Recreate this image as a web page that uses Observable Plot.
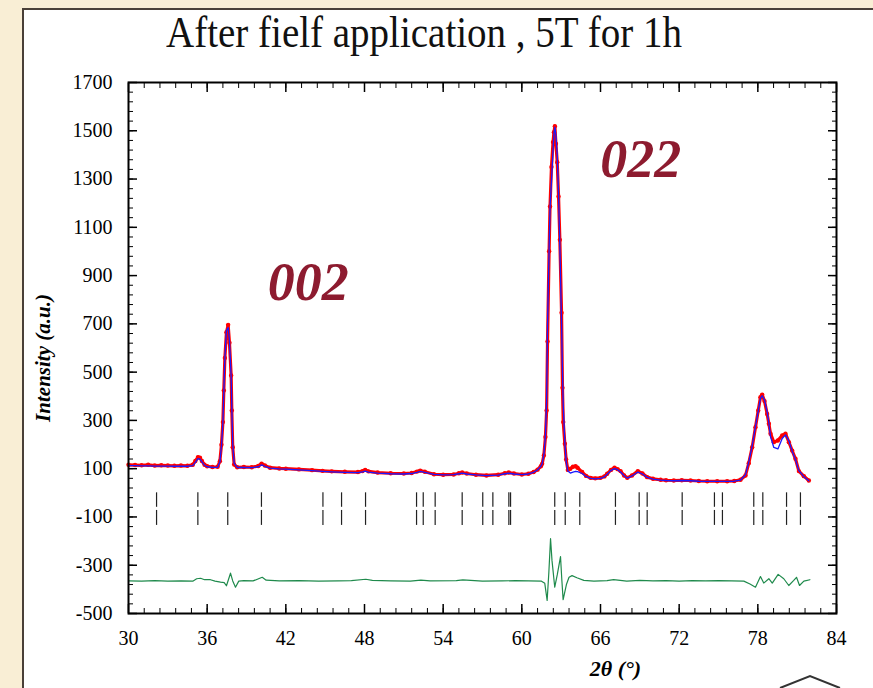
<!DOCTYPE html>
<html>
<head>
<meta charset="utf-8">
<script src="https://cdn.jsdelivr.net/npm/d3@7"></script>
<script src="https://cdn.jsdelivr.net/npm/@observablehq/plot@0.6"></script>
<style>
  html, body { margin: 0; padding: 0; width: 873px; height: 688px; overflow: hidden; background: #f9eed5; }
  #panel { position: absolute; left: 22px; top: 8px; width: 900px; height: 700px; background: #ffffff;
           border-left: 2px solid #4a4038; border-top: 2px solid #4a4038; }
  #title { position: absolute; left: 0; top: 14px; width: 848px; text-align: center;
           font-family: "Liberation Serif", "Times New Roman", serif; font-size: 39px; line-height: 40px; color: #111;
           white-space: nowrap; transform: scaleY(1.12); transform-origin: 50% 33px; }
  #chart { position: absolute; left: 0; top: 60px; }
  #corner { position: absolute; left: 0; top: 0; }
</style>
</head>
<body>
<div id="panel"></div>
<div id="title">After fielf application , 5T for 1h</div>
<div id="chart"></div>
<svg id="corner" width="873" height="688"><polyline points="780,688 810,676 840,688" fill="#fff" stroke="#333" stroke-width="2"/></svg>
<script>
// Observed / calculated profile, 2θ in degrees
const theta = [30.0,30.5,31.0,31.5,32.0,32.5,33.0,33.5,34.0,34.5,34.9,35.1,35.3,35.45,35.6,35.8,36.0,36.4,36.8,36.97,37.09,37.2,37.27,37.35,37.47,37.6,37.7,37.83,37.88,37.95,38.06,38.29,38.8,39.4,39.9,40.15,40.4,40.8,41.5,42.0,43.0,44.0,44.8,45.5,46.5,47.5,47.85,48.05,48.3,49.0,50.0,51.0,51.6,52.0,52.25,52.6,53.3,54.0,54.8,55.2,55.45,55.8,56.5,57.3,58.2,58.7,59.0,59.4,60.0,60.5,60.9,61.2,61.45,61.55,61.68,61.8,61.89,61.96,62.08,62.15,62.26,62.38,62.45,62.52,62.6,62.7,62.8,62.9,63.03,63.1,63.16,63.28,63.38,63.51,63.7,63.9,64.1,64.25,64.6,64.9,65.24,65.6,66.0,66.3,66.51,66.8,67.07,67.3,67.53,67.8,68.04,68.4,68.85,69.2,69.56,70.0,70.58,71.0,71.59,72.2,72.87,73.5,74.14,74.9,75.66,76.2,76.68,77.06,77.31,77.57,77.82,78.03,78.2,78.33,78.51,78.71,78.84,78.97,79.22,79.53,79.86,80.11,80.37,80.62,80.87,81.13,81.51,81.89];
const iObs = [116,115,114,116,113,114,113,112,113,112,116,132,148,145,132,116,110,107,108,131,199,293,424,559,665,696,622,486,341,189,117,106,107,106,111,121,113,104,101,100,97,94,91,89,87,86,90,95,89,84,81,80,82,88,92,87,77,75,76,81,84,80,75,72,75,81,84,80,76,79,86,96,110,120,155,231,341,627,1001,1186,1350,1453,1494,1519,1446,1370,1228,1048,746,435,293,203,138,95,100,108,110,104,86,70,62,60,62,68,79,95,104,98,90,72,62,72,90,80,65,58,54,52,51,52,51,49,48,48,48,49,54,72,123,189,272,341,396,407,380,327,286,245,210,217,238,245,210,175,141,90,69,51];
const iCalc = [113,113,112,112,111,111,111,110,110,110,113,126,142,140,128,114,108,105,106,128,195,290,420,560,672,685,630,480,350,200,122,105,105,104,108,116,110,102,99,98,95,92,89,87,85,84,87,90,86,82,79,78,80,85,89,85,76,74,75,79,82,78,74,71,73,79,81,78,75,78,85,95,110,121,158,235,380,700,1010,1180,1290,1420,1490,1515,1480,1400,1240,1020,700,500,360,210,130,90,82,86,89,88,80,68,60,58,60,66,77,93,100,96,86,71,61,70,86,78,64,57,53,51,50,51,50,48,47,47,47,48,53,75,128,195,275,338,392,402,385,335,290,232,188,182,225,240,215,172,138,92,67,50];

// Difference curve (Iobs - Icalc, shifted)
const diffTheta = [30.0,31.0,32.0,33.0,34.0,34.9,35.2,35.5,35.8,36.25,36.6,37.02,37.3,37.47,37.62,37.78,37.95,38.16,38.41,38.8,39.5,40.2,40.5,41.5,43.0,44.5,46.0,47.0,48.1,48.6,50.0,51.5,52.3,53.0,55.0,55.5,57.0,58.5,59.5,60.5,61.5,61.75,61.93,62.06,62.19,62.3,62.51,62.7,62.95,63.05,63.15,63.4,63.6,63.83,64.2,64.73,65.5,66.5,67.0,68.0,69.0,70.0,71.0,72.0,73.0,74.0,75.0,76.0,76.93,77.4,77.82,78.2,78.45,78.84,79.1,79.55,79.98,80.36,80.74,80.95,81.18,81.51,81.97];
const diffValue = [-365,-366,-364,-366,-365,-366,-356,-354,-360,-360,-366,-370,-372,-385,-360,-333,-365,-391,-366,-364,-365,-350,-362,-365,-364,-366,-365,-364,-358,-363,-365,-366,-362,-365,-364,-361,-366,-365,-364,-365,-366,-375,-446,-330,-190,-280,-391,-340,-264,-360,-443,-380,-350,-343,-352,-363,-366,-364,-360,-366,-363,-365,-364,-366,-364,-365,-364,-365,-366,-378,-391,-347,-374,-356,-374,-338,-356,-384,-363,-350,-384,-366,-360];

// Bragg reflection positions
const braggPositions = [32.14,35.29,37.57,40.14,44.83,46.25,48.08,51.97,52.48,53.39,55.45,57.02,57.79,59.01,59.14,62.51,63.31,64.42,67.14,68.95,69.56,72.23,74.69,75.30,77.69,78.38,80.19,81.25];

// Axis ticks
const xTickLabels = [30,36,42,48,54,60,66,72,78,84];
const yTickLabels = [-500,-300,-100,100,300,500,700,900,1100,1300,1500,1700];
const xMinorTicks = d3.range(0, 46).map(k => 30 + k * 1.2);
const yMinorTicks = d3.range(0, 56).map(k => -500 + k * 40);

// Indexed reflections
const hklLabels = ["002", "022"];
const hklTheta = [37.6, 62.52];
const hklPeak = [696, 1519];

const idx = d3.range(theta.length);
const didx = d3.range(diffTheta.length);
const serif = "'Liberation Serif', 'Times New Roman', serif";
const hklColor = "#8d1b2f";

const chart = Plot.plot({
  width: 873,
  height: 628,
  marginLeft: 128,
  marginRight: 37,
  marginTop: 22,
  marginBottom: 75,
  x: {domain: [30, 84]},
  y: {domain: [-500, 1700]},
  style: {background: "transparent", fontFamily: serif, fontSize: "20px", color: "#000"},
  marks: [
    // inward minor/major ticks on all four sides
    Plot.axisY(yMinorTicks, {anchor: "left", tickSize: 5, dx: 5, fill: "none", label: null}),
    Plot.axisY(yTickLabels, {anchor: "left", tickSize: 9, dx: 9, fill: "none", label: null, strokeWidth: 1.5}),
    Plot.axisY(yMinorTicks, {anchor: "right", tickSize: 5, dx: -5, fill: "none", label: null}),
    Plot.axisY(yTickLabels, {anchor: "right", tickSize: 9, dx: -9, fill: "none", label: null, strokeWidth: 1.5}),
    Plot.axisX(xMinorTicks, {anchor: "bottom", tickSize: 5, dy: -5, fill: "none", label: null}),
    Plot.axisX(xTickLabels, {anchor: "bottom", tickSize: 9, dy: -9, fill: "none", label: null, strokeWidth: 1.5}),
    Plot.axisX(xMinorTicks, {anchor: "top", tickSize: 5, dy: 5, fill: "none", label: null}),
    Plot.axisX(xTickLabels, {anchor: "top", tickSize: 9, dy: 9, fill: "none", label: null, strokeWidth: 1.5}),
    // tick labels
    Plot.axisY(yTickLabels, {anchor: "left", tickSize: 0, tickPadding: 16, tickFormat: d => String(d), label: null}),
    Plot.axisX(xTickLabels, {anchor: "bottom", tickSize: 0, tickPadding: 17, tickFormat: d => String(d), label: null}),
    // Bragg positions (two rows)
    Plot.ruleX(braggPositions, {y1: 0, y2: -60, stroke: "#222", strokeWidth: 1.2}),
    Plot.ruleX(braggPositions, {y1: -73, y2: -135, stroke: "#222", strokeWidth: 1.2}),
    // difference
    Plot.line(didx, {x: i => diffTheta[i], y: i => diffValue[i], stroke: "#1f8a4c", strokeWidth: 1.2}),
    // observed
    Plot.line(idx, {x: i => theta[i], y: i => iObs[i], stroke: "#ff0000", strokeWidth: 3.2}),
    Plot.dot(idx, {x: i => theta[i], y: i => iObs[i], r: 2.2, fill: "#ff0000"}),
    // calculated
    Plot.line(idx, {x: i => theta[i], y: i => iCalc[i], stroke: "#1a1aff", strokeWidth: 1.3}),
    // reflection labels
    Plot.text([0], {x: i => hklTheta[i], y: i => hklPeak[i], text: i => hklLabels[i], dx: 80, dy: -42,
      fontSize: 54, fontWeight: "bold", fontStyle: "italic", fontFamily: serif, fill: hklColor}),
    Plot.text([1], {x: i => hklTheta[i], y: i => hklPeak[i], text: i => hklLabels[i], dx: 86, dy: 34,
      fontSize: 54, fontWeight: "bold", fontStyle: "italic", fontFamily: serif, fill: hklColor}),
    // axis titles
    Plot.text(["Intensity (a.u.)"], {frameAnchor: "left", dx: -85, dy: 10, rotate: -90, text: d => d,
      textAnchor: "middle", lineAnchor: "middle",
      fontSize: 21, fontWeight: "bold", fontStyle: "italic", fontFamily: serif, fill: "#000"}),
    Plot.text(["2θ (°)"], {frameAnchor: "bottom", dx: 133, dy: 55, text: d => d,
      textAnchor: "middle", lineAnchor: "middle",
      fontSize: 22, fontWeight: "bold", fontStyle: "italic", fontFamily: serif, fill: "#000"}),
    Plot.frame({stroke: "#000", strokeWidth: 2})
  ]
});
document.getElementById("chart").appendChild(chart);
</script>
</body>
</html>
